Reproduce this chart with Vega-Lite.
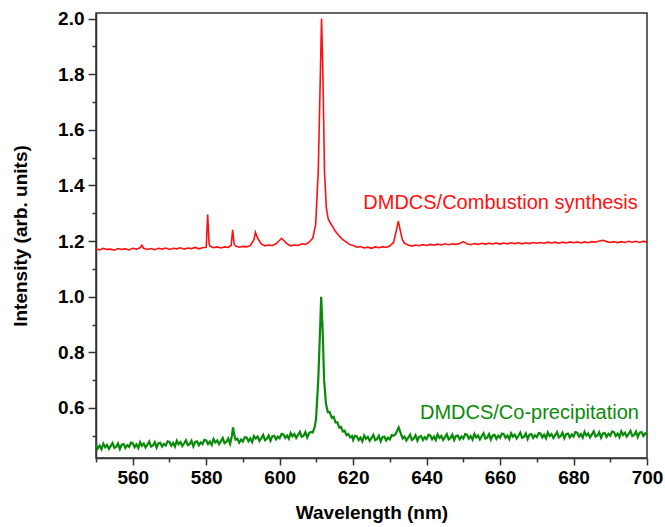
{
  "$schema": "https://vega.github.io/schema/vega-lite/v6.json",
  "width": 551,
  "height": 445,
  "autosize": "none",
  "padding": {"left": 96, "top": 13, "right": 18, "bottom": 69},
  "background": "white",
  "config": {
    "view": {"stroke": "#333333", "strokeWidth": 1.5},
    "font": "Liberation Sans",
    "axis": {"grid": false, "domainColor": "#333333", "domainWidth": 1.5, "tickColor": "#333333", "tickWidth": 1.5,
      "labelFont": "Liberation Sans", "labelFontWeight": "bold", "labelFontSize": 19, "labelColor": "#000",
      "titleFont": "Liberation Sans", "titleFontWeight": "bold", "titleFontSize": 19, "titleColor": "#000"}
  },
  "resolve": {"axis": {"x": "independent", "y": "independent"}},
  "datasets": {
    "spec": [
      {"x":550,"y":1.172,"s":"c"},{"x":551,"y":1.168,"s":"c"},{"x":552,"y":1.174,"s":"c"},{"x":553,"y":1.170,"s":"c"},{"x":554,"y":1.171,"s":"c"},{"x":555,"y":1.167,"s":"c"},{"x":556,"y":1.173,"s":"c"},{"x":557,"y":1.170,"s":"c"},{"x":558,"y":1.172,"s":"c"},{"x":559,"y":1.168,"s":"c"},{"x":560,"y":1.174,"s":"c"},{"x":561,"y":1.171,"s":"c"},{"x":562,"y":1.176,"s":"c"},{"x":562.5,"y":1.185,"s":"c"},{"x":563,"y":1.174,"s":"c"},{"x":564,"y":1.170,"s":"c"},{"x":565,"y":1.173,"s":"c"},{"x":566,"y":1.169,"s":"c"},{"x":567,"y":1.174,"s":"c"},{"x":568,"y":1.171,"s":"c"},{"x":569,"y":1.175,"s":"c"},{"x":570,"y":1.170,"s":"c"},{"x":571,"y":1.174,"s":"c"},{"x":572,"y":1.172,"s":"c"},{"x":573,"y":1.176,"s":"c"},{"x":574,"y":1.171,"s":"c"},{"x":575,"y":1.175,"s":"c"},{"x":576,"y":1.173,"s":"c"},{"x":577,"y":1.177,"s":"c"},{"x":578,"y":1.172,"s":"c"},{"x":579,"y":1.176,"s":"c"},{"x":580,"y":1.178,"s":"c"},{"x":580.4,"y":1.295,"s":"c"},{"x":580.8,"y":1.19,"s":"c"},{"x":581,"y":1.182,"s":"c"},{"x":582,"y":1.176,"s":"c"},{"x":583,"y":1.179,"s":"c"},{"x":584,"y":1.175,"s":"c"},{"x":585,"y":1.179,"s":"c"},{"x":586,"y":1.177,"s":"c"},{"x":586.8,"y":1.185,"s":"c"},{"x":587.2,"y":1.24,"s":"c"},{"x":587.6,"y":1.19,"s":"c"},{"x":588,"y":1.182,"s":"c"},{"x":589,"y":1.178,"s":"c"},{"x":590,"y":1.181,"s":"c"},{"x":591,"y":1.179,"s":"c"},{"x":592,"y":1.184,"s":"c"},{"x":593,"y":1.205,"s":"c"},{"x":593.4,"y":1.232,"s":"c"},{"x":594,"y":1.21,"s":"c"},{"x":595,"y":1.19,"s":"c"},{"x":596,"y":1.183,"s":"c"},{"x":597,"y":1.186,"s":"c"},{"x":598,"y":1.184,"s":"c"},{"x":599,"y":1.19,"s":"c"},{"x":600,"y":1.203,"s":"c"},{"x":600.5,"y":1.21,"s":"c"},{"x":601,"y":1.204,"s":"c"},{"x":602,"y":1.19,"s":"c"},{"x":603,"y":1.183,"s":"c"},{"x":604,"y":1.186,"s":"c"},{"x":605,"y":1.184,"s":"c"},{"x":606,"y":1.19,"s":"c"},{"x":607,"y":1.188,"s":"c"},{"x":608,"y":1.196,"s":"c"},{"x":609,"y":1.21,"s":"c"},{"x":609.8,"y":1.26,"s":"c"},{"x":610.5,"y":1.45,"s":"c"},{"x":611,"y":1.75,"s":"c"},{"x":611.4,"y":2.0,"s":"c"},{"x":611.8,"y":1.78,"s":"c"},{"x":612.2,"y":1.45,"s":"c"},{"x":612.7,"y":1.32,"s":"c"},{"x":613.2,"y":1.28,"s":"c"},{"x":613.8,"y":1.265,"s":"c"},{"x":614.5,"y":1.25,"s":"c"},{"x":615,"y":1.238,"s":"c"},{"x":616,"y":1.222,"s":"c"},{"x":617,"y":1.207,"s":"c"},{"x":618,"y":1.198,"s":"c"},{"x":619,"y":1.188,"s":"c"},{"x":620,"y":1.184,"s":"c"},{"x":621,"y":1.178,"s":"c"},{"x":622,"y":1.180,"s":"c"},{"x":623,"y":1.175,"s":"c"},{"x":624,"y":1.178,"s":"c"},{"x":625,"y":1.174,"s":"c"},{"x":626,"y":1.179,"s":"c"},{"x":627,"y":1.176,"s":"c"},{"x":628,"y":1.180,"s":"c"},{"x":629,"y":1.177,"s":"c"},{"x":630,"y":1.183,"s":"c"},{"x":631,"y":1.195,"s":"c"},{"x":631.8,"y":1.24,"s":"c"},{"x":632.3,"y":1.272,"s":"c"},{"x":632.8,"y":1.24,"s":"c"},{"x":633.4,"y":1.205,"s":"c"},{"x":634,"y":1.192,"s":"c"},{"x":635,"y":1.186,"s":"c"},{"x":636,"y":1.182,"s":"c"},{"x":637,"y":1.186,"s":"c"},{"x":638,"y":1.183,"s":"c"},{"x":639,"y":1.187,"s":"c"},{"x":640,"y":1.184,"s":"c"},{"x":641,"y":1.188,"s":"c"},{"x":642,"y":1.185,"s":"c"},{"x":643,"y":1.189,"s":"c"},{"x":644,"y":1.186,"s":"c"},{"x":645,"y":1.190,"s":"c"},{"x":646,"y":1.187,"s":"c"},{"x":647,"y":1.190,"s":"c"},{"x":648,"y":1.188,"s":"c"},{"x":649,"y":1.191,"s":"c"},{"x":650,"y":1.198,"s":"c"},{"x":651,"y":1.19,"s":"c"},{"x":652,"y":1.187,"s":"c"},{"x":653,"y":1.191,"s":"c"},{"x":654,"y":1.188,"s":"c"},{"x":655,"y":1.192,"s":"c"},{"x":656,"y":1.189,"s":"c"},{"x":657,"y":1.192,"s":"c"},{"x":658,"y":1.190,"s":"c"},{"x":659,"y":1.193,"s":"c"},{"x":660,"y":1.189,"s":"c"},{"x":661,"y":1.193,"s":"c"},{"x":662,"y":1.190,"s":"c"},{"x":663,"y":1.194,"s":"c"},{"x":664,"y":1.191,"s":"c"},{"x":665,"y":1.194,"s":"c"},{"x":666,"y":1.190,"s":"c"},{"x":667,"y":1.194,"s":"c"},{"x":668,"y":1.191,"s":"c"},{"x":669,"y":1.195,"s":"c"},{"x":670,"y":1.192,"s":"c"},{"x":671,"y":1.195,"s":"c"},{"x":672,"y":1.192,"s":"c"},{"x":673,"y":1.196,"s":"c"},{"x":674,"y":1.193,"s":"c"},{"x":675,"y":1.196,"s":"c"},{"x":676,"y":1.192,"s":"c"},{"x":677,"y":1.196,"s":"c"},{"x":678,"y":1.193,"s":"c"},{"x":679,"y":1.197,"s":"c"},{"x":680,"y":1.194,"s":"c"},{"x":681,"y":1.197,"s":"c"},{"x":682,"y":1.193,"s":"c"},{"x":683,"y":1.197,"s":"c"},{"x":684,"y":1.194,"s":"c"},{"x":685,"y":1.198,"s":"c"},{"x":686,"y":1.196,"s":"c"},{"x":687,"y":1.200,"s":"c"},{"x":688,"y":1.203,"s":"c"},{"x":689,"y":1.198,"s":"c"},{"x":690,"y":1.195,"s":"c"},{"x":691,"y":1.198,"s":"c"},{"x":692,"y":1.194,"s":"c"},{"x":693,"y":1.198,"s":"c"},{"x":694,"y":1.195,"s":"c"},{"x":695,"y":1.199,"s":"c"},{"x":696,"y":1.196,"s":"c"},{"x":697,"y":1.199,"s":"c"},{"x":698,"y":1.195,"s":"c"},{"x":699,"y":1.199,"s":"c"},{"x":700,"y":1.197,"s":"c"},
      {"x":550,"y":0.468,"s":"p"},{"x":550.5,"y":0.454,"s":"p"},{"x":551,"y":0.464,"s":"p"},{"x":551.5,"y":0.451,"s":"p"},{"x":552,"y":0.472,"s":"p"},{"x":552.5,"y":0.459,"s":"p"},{"x":553,"y":0.467,"s":"p"},{"x":553.5,"y":0.453,"s":"p"},{"x":554,"y":0.463,"s":"p"},{"x":554.5,"y":0.474,"s":"p"},{"x":555,"y":0.456,"s":"p"},{"x":555.5,"y":0.460,"s":"p"},{"x":556,"y":0.472,"s":"p"},{"x":556.5,"y":0.452,"s":"p"},{"x":557,"y":0.468,"s":"p"},{"x":557.5,"y":0.470,"s":"p"},{"x":558,"y":0.456,"s":"p"},{"x":558.5,"y":0.466,"s":"p"},{"x":559,"y":0.460,"s":"p"},{"x":559.5,"y":0.475,"s":"p"},
      {"x":560,"y":0.473,"s":"p"},{"x":560.5,"y":0.459,"s":"p"},{"x":561,"y":0.469,"s":"p"},{"x":561.5,"y":0.456,"s":"p"},{"x":562,"y":0.477,"s":"p"},{"x":562.5,"y":0.464,"s":"p"},{"x":563,"y":0.472,"s":"p"},{"x":563.5,"y":0.458,"s":"p"},{"x":564,"y":0.468,"s":"p"},{"x":564.5,"y":0.479,"s":"p"},{"x":565,"y":0.461,"s":"p"},{"x":565.5,"y":0.465,"s":"p"},{"x":566,"y":0.477,"s":"p"},{"x":566.5,"y":0.457,"s":"p"},{"x":567,"y":0.473,"s":"p"},{"x":567.5,"y":0.475,"s":"p"},{"x":568,"y":0.461,"s":"p"},{"x":568.5,"y":0.471,"s":"p"},{"x":569,"y":0.465,"s":"p"},{"x":569.5,"y":0.480,"s":"p"},
      {"x":570,"y":0.478,"s":"p"},{"x":570.5,"y":0.464,"s":"p"},{"x":571,"y":0.474,"s":"p"},{"x":571.5,"y":0.461,"s":"p"},{"x":572,"y":0.482,"s":"p"},{"x":572.5,"y":0.469,"s":"p"},{"x":573,"y":0.477,"s":"p"},{"x":573.5,"y":0.463,"s":"p"},{"x":574,"y":0.473,"s":"p"},{"x":574.5,"y":0.484,"s":"p"},{"x":575,"y":0.466,"s":"p"},{"x":575.5,"y":0.470,"s":"p"},{"x":576,"y":0.482,"s":"p"},{"x":576.5,"y":0.462,"s":"p"},{"x":577,"y":0.478,"s":"p"},{"x":577.5,"y":0.480,"s":"p"},{"x":578,"y":0.466,"s":"p"},{"x":578.5,"y":0.476,"s":"p"},{"x":579,"y":0.470,"s":"p"},{"x":579.5,"y":0.485,"s":"p"},
      {"x":580,"y":0.483,"s":"p"},{"x":580.5,"y":0.470,"s":"p"},{"x":581,"y":0.479,"s":"p"},{"x":581.5,"y":0.467,"s":"p"},{"x":582,"y":0.488,"s":"p"},{"x":582.5,"y":0.476,"s":"p"},{"x":583,"y":0.483,"s":"p"},{"x":583.5,"y":0.470,"s":"p"},{"x":584,"y":0.480,"s":"p"},{"x":584.5,"y":0.492,"s":"p"},{"x":585,"y":0.473,"s":"p"},{"x":585.5,"y":0.478,"s":"p"},{"x":586,"y":0.490,"s":"p"},{"x":586.5,"y":0.471,"s":"p"},{"x":587,"y":0.50,"s":"p"},{"x":587.3,"y":0.53,"s":"p"},{"x":587.7,"y":0.50,"s":"p"},
      {"x":588,"y":0.486,"s":"p"},{"x":588.5,"y":0.489,"s":"p"},{"x":589,"y":0.475,"s":"p"},{"x":589.5,"y":0.486,"s":"p"},{"x":590,"y":0.479,"s":"p"},{"x":590.5,"y":0.495,"s":"p"},{"x":591,"y":0.494,"s":"p"},{"x":591.5,"y":0.480,"s":"p"},{"x":592,"y":0.490,"s":"p"},{"x":592.5,"y":0.477,"s":"p"},{"x":593,"y":0.499,"s":"p"},{"x":593.5,"y":0.490,"s":"p"},{"x":594,"y":0.497,"s":"p"},{"x":594.5,"y":0.481,"s":"p"},{"x":595,"y":0.491,"s":"p"},{"x":595.5,"y":0.503,"s":"p"},{"x":596,"y":0.484,"s":"p"},{"x":596.5,"y":0.489,"s":"p"},{"x":597,"y":0.501,"s":"p"},{"x":597.5,"y":0.482,"s":"p"},{"x":598,"y":0.498,"s":"p"},{"x":598.5,"y":0.500,"s":"p"},{"x":599,"y":0.487,"s":"p"},{"x":599.5,"y":0.497,"s":"p"},
      {"x":600,"y":0.491,"s":"p"},{"x":600.5,"y":0.506,"s":"p"},{"x":601,"y":0.505,"s":"p"},{"x":601.5,"y":0.492,"s":"p"},{"x":602,"y":0.501,"s":"p"},{"x":602.5,"y":0.489,"s":"p"},{"x":603,"y":0.510,"s":"p"},{"x":603.5,"y":0.498,"s":"p"},{"x":604,"y":0.506,"s":"p"},{"x":604.5,"y":0.492,"s":"p"},{"x":605,"y":0.503,"s":"p"},{"x":605.5,"y":0.514,"s":"p"},{"x":606,"y":0.496,"s":"p"},{"x":606.5,"y":0.500,"s":"p"},{"x":607,"y":0.513,"s":"p"},{"x":607.5,"y":0.494,"s":"p"},{"x":608,"y":0.509,"s":"p"},{"x":608.5,"y":0.514,"s":"p"},{"x":609,"y":0.512,"s":"p"},{"x":609.5,"y":0.53,"s":"p"},
      {"x":609.9,"y":0.56,"s":"p"},{"x":610.5,"y":0.70,"s":"p"},{"x":611,"y":0.88,"s":"p"},{"x":611.3,"y":1.0,"s":"p"},{"x":611.7,"y":0.88,"s":"p"},{"x":612.1,"y":0.70,"s":"p"},{"x":612.6,"y":0.615,"s":"p"},{"x":613.1,"y":0.585,"s":"p"},{"x":613.6,"y":0.585,"s":"p"},{"x":614.2,"y":0.565,"s":"p"},{"x":614.7,"y":0.568,"s":"p"},{"x":615.2,"y":0.548,"s":"p"},{"x":615.7,"y":0.548,"s":"p"},{"x":616.2,"y":0.530,"s":"p"},{"x":616.7,"y":0.532,"s":"p"},{"x":617.2,"y":0.515,"s":"p"},{"x":617.7,"y":0.518,"s":"p"},{"x":618.2,"y":0.502,"s":"p"},{"x":618.7,"y":0.506,"s":"p"},{"x":619.2,"y":0.494,"s":"p"},{"x":619.7,"y":0.499,"s":"p"},
      {"x":620,"y":0.485,"s":"p"},{"x":620.5,"y":0.500,"s":"p"},{"x":621,"y":0.498,"s":"p"},{"x":621.5,"y":0.484,"s":"p"},{"x":622,"y":0.493,"s":"p"},{"x":622.5,"y":0.480,"s":"p"},{"x":623,"y":0.501,"s":"p"},{"x":623.5,"y":0.489,"s":"p"},{"x":624,"y":0.496,"s":"p"},{"x":624.5,"y":0.482,"s":"p"},{"x":625,"y":0.492,"s":"p"},{"x":625.5,"y":0.503,"s":"p"},{"x":626,"y":0.484,"s":"p"},{"x":626.5,"y":0.488,"s":"p"},{"x":627,"y":0.500,"s":"p"},{"x":627.5,"y":0.480,"s":"p"},{"x":628,"y":0.495,"s":"p"},{"x":628.5,"y":0.497,"s":"p"},{"x":629,"y":0.483,"s":"p"},{"x":629.5,"y":0.493,"s":"p"},
      {"x":630,"y":0.487,"s":"p"},{"x":630.5,"y":0.502,"s":"p"},{"x":631,"y":0.500,"s":"p"},{"x":631.5,"y":0.505,"s":"p"},{"x":632,"y":0.518,"s":"p"},{"x":632.4,"y":0.53,"s":"p"},{"x":632.8,"y":0.515,"s":"p"},{"x":633.2,"y":0.500,"s":"p"},{"x":633.5,"y":0.490,"s":"p"},{"x":634,"y":0.497,"s":"p"},{"x":634.5,"y":0.483,"s":"p"},{"x":635,"y":0.493,"s":"p"},{"x":635.5,"y":0.504,"s":"p"},{"x":636,"y":0.485,"s":"p"},{"x":636.5,"y":0.490,"s":"p"},{"x":637,"y":0.502,"s":"p"},{"x":637.5,"y":0.482,"s":"p"},{"x":638,"y":0.497,"s":"p"},{"x":638.5,"y":0.499,"s":"p"},{"x":639,"y":0.485,"s":"p"},{"x":639.5,"y":0.495,"s":"p"},
      {"x":640,"y":0.488,"s":"p"},{"x":640.5,"y":0.503,"s":"p"},{"x":641,"y":0.501,"s":"p"},{"x":641.5,"y":0.487,"s":"p"},{"x":642,"y":0.497,"s":"p"},{"x":642.5,"y":0.484,"s":"p"},{"x":643,"y":0.505,"s":"p"},{"x":643.5,"y":0.492,"s":"p"},{"x":644,"y":0.499,"s":"p"},{"x":644.5,"y":0.485,"s":"p"},{"x":645,"y":0.495,"s":"p"},{"x":645.5,"y":0.506,"s":"p"},{"x":646,"y":0.487,"s":"p"},{"x":646.5,"y":0.492,"s":"p"},{"x":647,"y":0.504,"s":"p"},{"x":647.5,"y":0.484,"s":"p"},{"x":648,"y":0.499,"s":"p"},{"x":648.5,"y":0.501,"s":"p"},{"x":649,"y":0.487,"s":"p"},{"x":649.5,"y":0.497,"s":"p"},
      {"x":650,"y":0.490,"s":"p"},{"x":650.5,"y":0.506,"s":"p"},{"x":651,"y":0.504,"s":"p"},{"x":651.5,"y":0.490,"s":"p"},{"x":652,"y":0.499,"s":"p"},{"x":652.5,"y":0.486,"s":"p"},{"x":653,"y":0.507,"s":"p"},{"x":653.5,"y":0.494,"s":"p"},{"x":654,"y":0.501,"s":"p"},{"x":654.5,"y":0.487,"s":"p"},{"x":655,"y":0.498,"s":"p"},{"x":655.5,"y":0.509,"s":"p"},{"x":656,"y":0.490,"s":"p"},{"x":656.5,"y":0.494,"s":"p"},{"x":657,"y":0.506,"s":"p"},{"x":657.5,"y":0.486,"s":"p"},{"x":658,"y":0.501,"s":"p"},{"x":658.5,"y":0.503,"s":"p"},{"x":659,"y":0.489,"s":"p"},{"x":659.5,"y":0.500,"s":"p"},
      {"x":660,"y":0.493,"s":"p"},{"x":660.5,"y":0.508,"s":"p"},{"x":661,"y":0.506,"s":"p"},{"x":661.5,"y":0.492,"s":"p"},{"x":662,"y":0.501,"s":"p"},{"x":662.5,"y":0.488,"s":"p"},{"x":663,"y":0.509,"s":"p"},{"x":663.5,"y":0.497,"s":"p"},{"x":664,"y":0.504,"s":"p"},{"x":664.5,"y":0.490,"s":"p"},{"x":665,"y":0.500,"s":"p"},{"x":665.5,"y":0.511,"s":"p"},{"x":666,"y":0.492,"s":"p"},{"x":666.5,"y":0.496,"s":"p"},{"x":667,"y":0.508,"s":"p"},{"x":667.5,"y":0.488,"s":"p"},{"x":668,"y":0.504,"s":"p"},{"x":668.5,"y":0.506,"s":"p"},{"x":669,"y":0.492,"s":"p"},{"x":669.5,"y":0.502,"s":"p"},
      {"x":670,"y":0.495,"s":"p"},{"x":670.5,"y":0.510,"s":"p"},{"x":671,"y":0.508,"s":"p"},{"x":671.5,"y":0.494,"s":"p"},{"x":672,"y":0.504,"s":"p"},{"x":672.5,"y":0.491,"s":"p"},{"x":673,"y":0.512,"s":"p"},{"x":673.5,"y":0.499,"s":"p"},{"x":674,"y":0.506,"s":"p"},{"x":674.5,"y":0.492,"s":"p"},{"x":675,"y":0.502,"s":"p"},{"x":675.5,"y":0.513,"s":"p"},{"x":676,"y":0.494,"s":"p"},{"x":676.5,"y":0.499,"s":"p"},{"x":677,"y":0.511,"s":"p"},{"x":677.5,"y":0.491,"s":"p"},{"x":678,"y":0.506,"s":"p"},{"x":678.5,"y":0.508,"s":"p"},{"x":679,"y":0.494,"s":"p"},{"x":679.5,"y":0.504,"s":"p"},
      {"x":680,"y":0.497,"s":"p"},{"x":680.5,"y":0.513,"s":"p"},{"x":681,"y":0.511,"s":"p"},{"x":681.5,"y":0.497,"s":"p"},{"x":682,"y":0.506,"s":"p"},{"x":682.5,"y":0.493,"s":"p"},{"x":683,"y":0.514,"s":"p"},{"x":683.5,"y":0.501,"s":"p"},{"x":684,"y":0.508,"s":"p"},{"x":684.5,"y":0.494,"s":"p"},{"x":685,"y":0.505,"s":"p"},{"x":685.5,"y":0.516,"s":"p"},{"x":686,"y":0.497,"s":"p"},{"x":686.5,"y":0.501,"s":"p"},{"x":687,"y":0.513,"s":"p"},{"x":687.5,"y":0.493,"s":"p"},{"x":688,"y":0.508,"s":"p"},{"x":688.5,"y":0.510,"s":"p"},{"x":689,"y":0.496,"s":"p"},{"x":689.5,"y":0.507,"s":"p"},
      {"x":690,"y":0.500,"s":"p"},{"x":690.5,"y":0.515,"s":"p"},{"x":691,"y":0.513,"s":"p"},{"x":691.5,"y":0.499,"s":"p"},{"x":692,"y":0.508,"s":"p"},{"x":692.5,"y":0.495,"s":"p"},{"x":693,"y":0.516,"s":"p"},{"x":693.5,"y":0.503,"s":"p"},{"x":694,"y":0.511,"s":"p"},{"x":694.5,"y":0.497,"s":"p"},{"x":695,"y":0.507,"s":"p"},{"x":695.5,"y":0.518,"s":"p"},{"x":696,"y":0.499,"s":"p"},{"x":696.5,"y":0.503,"s":"p"},{"x":697,"y":0.515,"s":"p"},{"x":697.5,"y":0.495,"s":"p"},{"x":698,"y":0.511,"s":"p"},{"x":698.5,"y":0.513,"s":"p"},{"x":699,"y":0.499,"s":"p"},{"x":699.5,"y":0.509,"s":"p"},{"x":700,"y":0.502,"s":"p"}
    ],
    "labels": [
      {"x":697.5,"y":1.338,"s":"c","t":"DMDCS/Combustion synthesis"},
      {"x":697.8,"y":0.583,"s":"p","t":"DMDCS/Co-precipitation"}
    ]
  },
  "layer": [
    {
      "data": {"name": "spec"},
      "mark": {"type": "line", "clip": true},
      "encoding": {
        "x": {"field": "x", "type": "quantitative", "scale": {"domain": [550, 700], "nice": false, "zero": false},
          "axis": {"orient": "bottom", "title": "Wavelength (nm)", "values": [560,580,600,620,640,660,680,700],
            "tickSize": 7, "labelPadding": 3, "titlePadding": 16, "labelFlush": false, "labelOverlap": false}},
        "y": {"field": "y", "type": "quantitative", "scale": {"domain": [0.42, 2.02], "nice": false, "zero": false},
          "axis": {"orient": "left", "title": "Intensity (arb. units)", "values": [0.6,0.8,1.0,1.2,1.4,1.6,1.8,2.0], "format": ".1f",
            "tickSize": 8, "labelPadding": 4, "titlePadding": 27, "labelFlush": false, "labelOverlap": false}},
        "color": {"field": "s", "type": "nominal", "scale": {"domain": ["c", "p"], "range": ["#ff1010", "#0a8a0a"]}, "legend": null},
        "strokeWidth": {"field": "s", "type": "nominal", "scale": {"domain": ["c", "p"], "range": [1.6, 2.2]}, "legend": null},
        "detail": {"field": "s"}
      }
    },
    {
      "data": {"name": "labels"},
      "mark": {"type": "text", "align": "right", "baseline": "middle", "fontSize": 20, "font": "Liberation Sans"},
      "encoding": {
        "x": {"field": "x", "type": "quantitative",
          "axis": {"orient": "bottom", "title": null, "labels": false, "domain": false, "tickSize": 4, "offset": 0,
            "values": [550,570,590,610,630,650,670,690]}},
        "y": {"field": "y", "type": "quantitative",
          "axis": {"orient": "left", "title": null, "labels": false, "domain": false, "tickSize": 4, "offset": 0,
            "values": [0.5,0.7,0.9,1.1,1.3,1.5,1.7,1.9]}},
        "text": {"field": "t"},
        "color": {"field": "s", "type": "nominal", "scale": {"domain": ["c", "p"], "range": ["#ee1111", "#118811"]}, "legend": null}
      }
    }
  ]
}
